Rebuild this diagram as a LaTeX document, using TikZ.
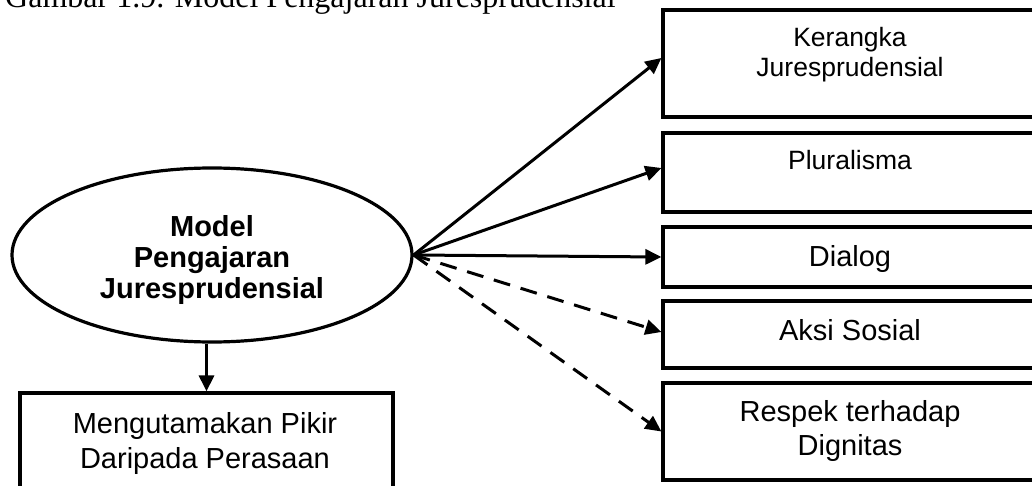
\documentclass[tikz,border=0pt]{standalone}
\usepackage{fontspec}
\setmainfont{Liberation Sans}
\newfontfamily\captionserif{Liberation Serif}
\usetikzlibrary{arrows.meta,shapes.geometric}

\begin{document}
\begin{tikzpicture}[x=1pt,y=-1pt,
  box/.style={draw,line width=3.2pt,inner sep=0pt,rectangle},
  lbl/.style={align=center,anchor=base,inner sep=0pt,font=\fontsize{29}{33.5}\selectfont},
  lblsmall/.style={align=center,anchor=base,inner sep=0pt,font=\fontsize{26.5}{30}\selectfont},
  conn/.style={line width=3pt,-{Triangle[length=16pt,width=15pt]}},
  dconn/.style={conn,dash pattern=on 17pt off 11pt}
]
\useasboundingbox (0,0) rectangle (1032,486);
\clip (0,0) rectangle (1032,486);

% caption (its upper part runs off the top edge)
\node[anchor=base west,inner sep=0pt,font=\captionserif\fontsize{32}{34}\selectfont]
  (cap) at (5,8) {Gambar 1.9. Model Pengajaran Juresprudensial};

% central ellipse; multi-line labels are placed by the baseline of their last line
\node[draw,ellipse,line width=3.2pt,inner sep=0pt,minimum width=400pt,minimum height=174pt]
  (ell) at (212,255) {};
\node[align=center,anchor=base,inner sep=0pt,font=\bfseries\fontsize{29}{30.7}\selectfont]
  (ellt) at (212,298) {Model\\Pengajaran\\Juresprudensial};

% right column
\node[box,minimum width=377pt,minimum height=107pt] (b1) at (851.5,63.5) {};
\node[box,minimum width=377pt,minimum height=79pt]  (b2) at (851.5,172.5) {};
\node[box,minimum width=377pt,minimum height=60pt]  (b3) at (851.5,257) {};
\node[box,minimum width=377pt,minimum height=67pt]  (b4) at (851.5,334.5) {};
\node[box,minimum width=377pt,minimum height=97pt]  (b5) at (851.5,431.5) {};

\node[lblsmall] (t1) at (850,77) {Kerangka\\Juresprudensial};
\node[lblsmall] (t2) at (850,170) {Pluralisma};
\node[lbl] (t3) at (850,266.7) {Dialog};
\node[lbl] (t4) at (850,340.7) {Aksi Sosial};
\node[lbl] (t5) at (850,455) {Respek terhadap\\Dignitas};

% bottom box
\node[box,minimum width=373pt,minimum height=117pt] (mb) at (206.5,451.5) {};
\node[lbl,font=\fontsize{29}{35}\selectfont] (mt) at (205,468.3) {Mengutamakan Pikir\\Daripada Perasaan};

% connectors
\draw[conn] (ell.east) -- ([yshift=5.5pt]b1.west);
\draw[conn] (ell.east) -- ([yshift=4.5pt]b2.west);
\draw[conn] (ell.east) -- (b3.west);
\draw[dconn] (ell.east) -- ([yshift=2.5pt]b4.west);
\draw[dconn] (ell.east) -- (b5.west);
\draw[conn] (ell.south -| mb.north) -- (mb.north);
\end{tikzpicture}
\end{document}
